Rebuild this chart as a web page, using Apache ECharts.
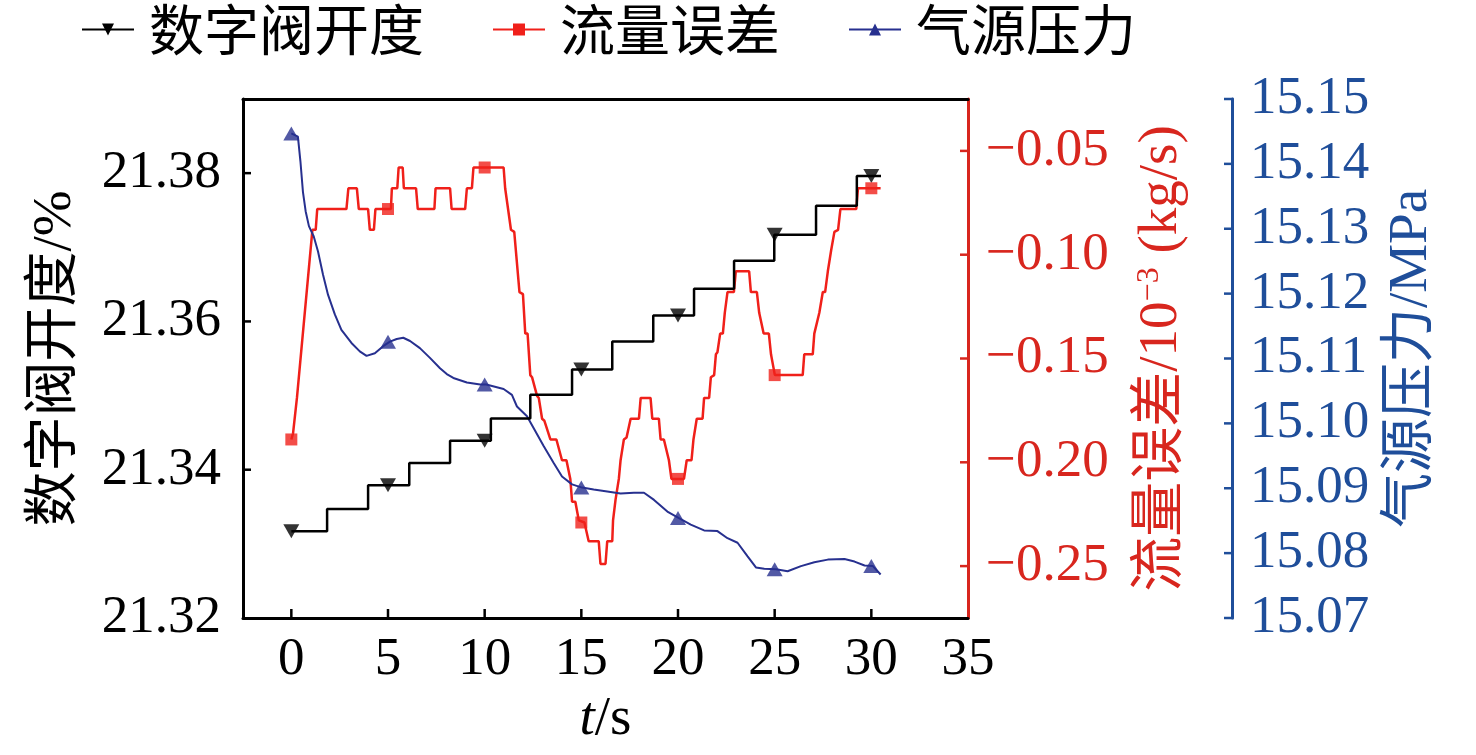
<!DOCTYPE html>
<html>
<head>
<meta charset="utf-8">
<script src="https://cdn.jsdelivr.net/npm/echarts@6/dist/echarts.min.js"></script>
<style>
  html, body { margin: 0; padding: 0; background: #fff; }
  #chart { width: 1476px; height: 755px; }
</style>
</head>
<body>
<div id="chart"></div>
<script>
// axis ranges and ticks
const xMin = -2.5, xMax = 35;
const leftMin = 21.32, leftMax = 21.39;
const redMin = -0.275, redMax = -0.025;
const blueMin = 15.07, blueMax = 15.15;
const xTicks = [0, 5, 10, 15, 20, 25, 30, 35];
const leftTicks = [21.32, 21.34, 21.36, 21.38];
const redTicks = [-0.25, -0.2, -0.15, -0.1, -0.05];
const blueTicks = [15.07, 15.08, 15.09, 15.1, 15.11, 15.12, 15.13, 15.14, 15.15];

// 数字阀开度 (step line, value holds until next time)
const valveT = [0, 1.85, 3.97, 6.1, 8.21, 10.32, 12.36, 14.52, 16.6, 18.72, 20.83, 22.9, 24.98, 27.14, 29.25, 30.5];
const valveV = [21.3317, 21.3347, 21.3379, 21.3409, 21.3439, 21.3469, 21.3501, 21.3535, 21.3573, 21.3608, 21.3644, 21.3682, 21.3717, 21.3756, 21.3796, 21.3796];

// 流量误差
const flowT = [0, 0.09, 0.29, 0.35, 1.09, 1.26, 1.34, 2.85, 2.95, 3.39, 3.49, 3.97, 4.06, 4.27, 4.35, 5.15, 5.2, 5.48, 5.55, 5.76,
  5.82, 6.45, 6.54, 7.4, 7.46, 8.21, 8.29, 8.99, 9.08, 9.34, 9.42, 10.98, 11.06, 11.14, 11.36, 11.53, 11.8, 11.98, 12.1, 12.22,
  12.36, 12.45, 12.71, 12.8, 12.97, 13.09, 13.4, 13.71, 14.0, 14.23, 14.43, 14.52, 14.69, 14.87, 15.16, 15.38, 15.9, 15.99, 16.25, 16.34,
  16.6, 16.64, 16.77, 16.94, 17.03, 17.2, 17.34, 17.55, 17.98, 18.07, 18.58, 18.67, 19.01, 19.1, 19.27, 19.53, 19.66, 20.31, 20.45, 20.7,
  20.8, 20.97, 21.27, 21.35, 21.61, 21.7, 21.87, 21.96, 22.04, 22.18, 22.32, 22.42, 22.56, 22.89, 22.99, 23.68, 23.77, 24.08, 24.2, 24.29,
  24.43, 24.7, 24.81, 24.91, 25.01, 26.45, 26.53, 26.97, 27.05, 27.14, 27.31, 27.49, 27.61, 27.75, 27.92, 28.09, 28.28, 28.4, 29.22, 29.31, 30.48];
const flowV = [-0.189, -0.186, -0.169, -0.169, -0.088, -0.088, -0.078, -0.078, -0.068, -0.068, -0.078, -0.078, -0.088, -0.088, -0.078, -0.078, -0.068, -0.068, -0.058, -0.058,
  -0.068, -0.068, -0.078, -0.078, -0.068, -0.068, -0.078, -0.078, -0.068, -0.068, -0.058, -0.058, -0.068, -0.068, -0.088, -0.089, -0.118, -0.119, -0.138, -0.138,
  -0.158, -0.159, -0.168, -0.169, -0.179, -0.18, -0.189, -0.189, -0.199, -0.199, -0.208, -0.219, -0.219, -0.228, -0.229, -0.238, -0.238, -0.249, -0.249, -0.238,
  -0.238, -0.228, -0.218, -0.208, -0.199, -0.189, -0.188, -0.179, -0.179, -0.169, -0.169, -0.179, -0.179, -0.189, -0.189, -0.199, -0.208, -0.208, -0.199, -0.199,
  -0.189, -0.179, -0.179, -0.169, -0.169, -0.159, -0.158, -0.148, -0.147, -0.138, -0.138, -0.128, -0.118, -0.118, -0.108, -0.108, -0.118, -0.118, -0.128, -0.128,
  -0.138, -0.138, -0.148, -0.148, -0.158, -0.158, -0.148, -0.148, -0.138, -0.138, -0.128, -0.118, -0.118, -0.108, -0.098, -0.089, -0.088, -0.078, -0.078, -0.068, -0.068];

// 气源压力
const pressT = [0, 0.34, 0.47, 0.6, 0.74, 0.91, 1.16, 1.38, 1.64, 1.9, 2.25, 2.59, 3.11, 3.54, 3.89, 4.32, 4.75, 5.1, 5.45, 5.79,
  6.14, 6.65, 7.17, 7.69, 8.04, 8.38, 9.08, 9.77, 10.08, 10.98, 11.41, 11.67, 12.19, 12.53, 13.05, 13.57, 14.0, 14.52, 15.04, 15.64,
  16.34, 17.03, 17.72, 18.24, 18.76, 19.45, 20.05, 20.66, 21.35, 22.04, 22.56, 23.08, 23.6, 24.03, 24.46, 25.07, 25.67, 26.36, 27.05, 27.75,
  28.61, 29.13, 29.65, 30.08, 30.48];
const pressV = [15.1447, 15.1442, 15.1404, 15.1357, 15.1327, 15.1304, 15.1288, 15.1265, 15.1229, 15.1198, 15.1168, 15.1144, 15.1124, 15.1111, 15.1104, 15.1108, 15.1119, 15.1126, 15.113, 15.1132,
  15.1127, 15.1116, 15.1101, 15.1085, 15.1076, 15.107, 15.1063, 15.106, 15.106, 15.1053, 15.1044, 15.1026, 15.1011, 15.0993, 15.0965, 15.0939, 15.0918, 15.0906, 15.0901, 15.0898,
  15.0895, 15.0892, 15.0893, 15.0893, 15.0882, 15.0864, 15.0854, 15.0844, 15.0835, 15.0834, 15.0823, 15.0816, 15.0795, 15.0778, 15.0776, 15.0775, 15.0772, 15.078, 15.0786, 15.079,
  15.0791, 15.0787, 15.0781, 15.078, 15.0767];

// marker positions
const markT = [0, 5, 10, 15, 20, 25, 30];
const valveMark = [21.3317, 21.3379, 21.3439, 21.3535, 21.3608, 21.3717, 21.3796];
const flowMark = [-0.189, -0.078, -0.058, -0.229, -0.208, -0.158, -0.068];
const pressMark = [15.1447, 15.1126, 15.106, 15.0901, 15.0854, 15.0775, 15.078];

const zip = (xs, ys) => xs.map((x, i) => [x, ys[i]]);

const serif = '"Liberation Serif", "Times New Roman", "Noto Sans CJK SC", serif';
const BLACK = '#000000';
const RED_LINE = '#f0201a';
const RED_AXIS = '#d8261e';
const BLUE_LINE = '#27308f';
const BLUE_AXIS = '#1f4e9a';
const BLUE_OFFSET = 264;
const downTri = 'path://M0,0L10,0L5,9Z';

const myChart = echarts.init(document.querySelector('#chart'));

const tickLabel = color => ({
  color: color,
  fontSize: 53,
  fontFamily: serif
});

const option = {
  animation: false,
  legend: {
    left: 76,
    top: -3,
    itemWidth: 52,
    itemHeight: 15,
    itemGap: 68,
    data: ['数字阀开度', '流量误差', '气源压力'],
    textStyle: {
      fontSize: 55,
      color: '#000',
      fontFamily: '"Noto Sans CJK SC", sans-serif',
      padding: [0, 0, 0, 10]
    }
  },
  grid: {
    left: 243,
    right: 508,
    top: 99,
    bottom: 137,
    containLabel: false,
    outerBoundsMode: 'none'
  },
  xAxis: [
    {
      type: 'value',
      min: xMin,
      max: xMax,
      name: '{i|t}/s',
      nameLocation: 'middle',
      nameGap: 70,
      nameTextStyle: {
        fontSize: 55,
        fontFamily: serif,
        color: '#000',
        rich: { i: { fontStyle: 'italic', fontSize: 55, fontFamily: serif, color: '#000' } }
      },
      axisLine: { onZero: false, lineStyle: { color: BLACK, width: 3 } },
      axisTick: { show: false },
      axisLabel: Object.assign(tickLabel('#000'), { margin: 16, customValues: xTicks }),
      splitLine: { show: false }
    },
    {
      type: 'value',
      position: 'top',
      min: xMin,
      max: xMax,
      axisLine: { onZero: false, lineStyle: { color: BLACK, width: 3 } },
      axisTick: { show: false },
      axisLabel: { show: false },
      splitLine: { show: false }
    }
  ],
  yAxis: [
    {
      type: 'value',
      position: 'left',
      min: leftMin,
      max: leftMax,
      name: '数字阀开度/%',
      nameLocation: 'middle',
      nameRotate: 90,
      nameGap: 160,
      nameTextStyle: { fontSize: 55, fontFamily: serif, color: '#000' },
      axisLine: { show: true, onZero: false, lineStyle: { color: BLACK, width: 3 } },
      axisTick: { show: false },
      axisLabel: Object.assign(tickLabel('#000'), {
        margin: 22,
        customValues: leftTicks,
        formatter: v => v.toFixed(2)
      }),
      splitLine: { show: false }
    },
    {
      type: 'value',
      position: 'right',
      min: redMin,
      max: redMax,
      name: '流量误差/10{sup|−3} (kg/s)',
      nameLocation: 'middle',
      nameRotate: 90,
      nameGap: 166,
      nameTextStyle: {
        fontSize: 55,
        fontFamily: serif,
        color: RED_AXIS,
        rich: { sup: { fontSize: 32, fontFamily: serif, color: RED_AXIS, verticalAlign: 'top', padding: [0, 0, 22, 0] } }
      },
      axisLine: { show: true, onZero: false, lineStyle: { color: RED_AXIS, width: 3 } },
      axisTick: { show: false },
      axisLabel: Object.assign(tickLabel(RED_AXIS), {
        margin: 18,
        customValues: redTicks,
        formatter: v => (v < 0 ? '−' : '') + Math.abs(v).toFixed(2)
      }),
      splitLine: { show: false }
    },
    {
      type: 'value',
      position: 'right',
      offset: BLUE_OFFSET,
      min: blueMin,
      max: blueMax,
      name: '气源压力/MPa',
      nameLocation: 'middle',
      nameRotate: 90,
      nameGap: 152,
      nameTextStyle: { fontSize: 55, fontFamily: serif, color: BLUE_AXIS },
      axisLine: { show: true, onZero: false, lineStyle: { color: BLUE_AXIS, width: 3 } },
      axisTick: { show: false },
      axisLabel: Object.assign(tickLabel(BLUE_AXIS), {
        margin: 18,
        customValues: blueTicks,
        formatter: v => v.toFixed(2)
      }),
      splitLine: { show: false }
    }
  ],
  series: [
    {
      name: '数字阀开度',
      type: 'line',
      yAxisIndex: 0,
      step: 'end',
      data: zip(valveT, valveV),
      symbol: downTri,
      symbolSize: [16, 14],
      showSymbol: false,
      color: BLACK,
      lineStyle: { color: BLACK, width: 2.5 },
      z: 3
    },
    {
      name: '流量误差',
      type: 'line',
      yAxisIndex: 1,
      data: zip(flowT, flowV),
      symbol: 'rect',
      symbolSize: 12,
      showSymbol: false,
      color: RED_LINE,
      lineStyle: { color: RED_LINE, width: 2.5 },
      z: 2
    },
    {
      name: '气源压力',
      type: 'line',
      yAxisIndex: 2,
      data: zip(pressT, pressV),
      symbol: 'triangle',
      symbolSize: [16, 14],
      showSymbol: false,
      color: BLUE_LINE,
      lineStyle: { color: BLUE_LINE, width: 2 },
      z: 2
    },
    {
      name: 'valveMarks',
      type: 'scatter',
      yAxisIndex: 0,
      data: zip(markT, valveMark),
      symbol: downTri,
      symbolSize: [16, 14],
      itemStyle: { color: BLACK },
      z: 5
    },
    {
      name: 'flowMarks',
      type: 'scatter',
      yAxisIndex: 1,
      data: zip(markT, flowMark),
      symbol: 'rect',
      symbolSize: 12,
      itemStyle: { color: RED_LINE },
      z: 5
    },
    {
      name: 'pressMarks',
      type: 'scatter',
      yAxisIndex: 2,
      data: zip(markT, pressMark),
      symbol: 'triangle',
      symbolSize: [16, 14],
      itemStyle: { color: BLUE_LINE },
      z: 5
    }
  ]
};

myChart.setOption(option);

// inward tick marks, positioned through the axes' own scales
const drawTicks = function() {
  const toX = v => myChart.convertToPixel({ xAxisIndex: 0 }, v);
  const toY = (idx, v) => myChart.convertToPixel({ yAxisIndex: idx }, v);
  const x0 = toX(xMin);
  const x1 = toX(xMax);
  const yBottom = toY(0, leftMin);
  const xBlue = x1 + BLUE_OFFSET;
  const seg = (a, b, c, d, color) => ({
    type: 'line',
    z: 100,
    zlevel: 1,
    silent: true,
    shape: { x1: a, y1: b, x2: c, y2: d },
    style: { stroke: color, lineWidth: 2.5 }
  });
  const elements = [];
  xTicks.slice(0, 7).forEach(t => {
    const x = toX(t);
    elements.push(seg(x, yBottom, x, yBottom - 9, BLACK));
  });
  leftTicks.slice(1).forEach(v => {
    const y = toY(0, v);
    elements.push(seg(x0, y, x0 + 8, y, BLACK));
  });
  redTicks.forEach(v => {
    const y = toY(1, v);
    elements.push(seg(x1, y, x1 - 8, y, RED_AXIS));
  });
  blueTicks.forEach(v => {
    const y = toY(2, v);
    elements.push(seg(xBlue + 1.5, y, xBlue - 8, y, BLUE_AXIS));
  });
  myChart.setOption({ graphic: { elements: elements } });
};
drawTicks();

window.addEventListener('resize', function() {
  myChart.resize();
  drawTicks();
});
</script>
</body>
</html>
